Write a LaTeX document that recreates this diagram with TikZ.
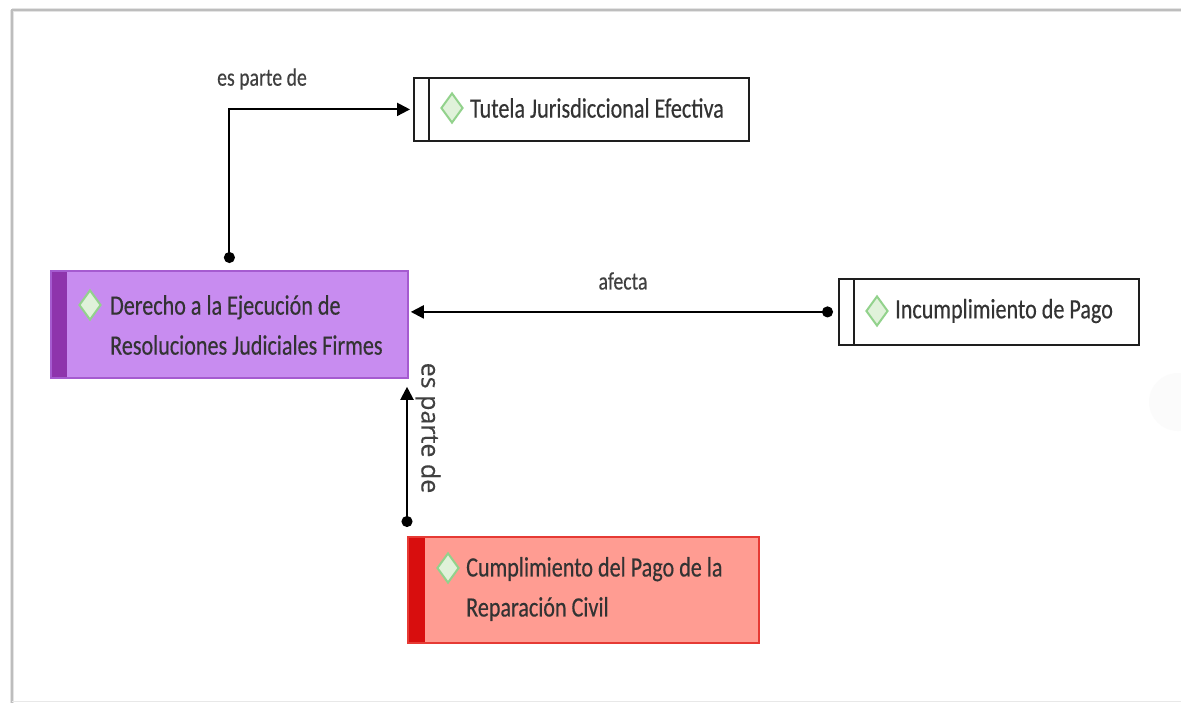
\documentclass[tikz,border=0pt]{standalone}
\usepackage{fontspec}
\setmainfont{Carlito}
\newfontfamily\boxfont[FakeStretch=0.79,FakeBold=0.35]{Carlito}
\newfontfamily\vlabelfont[FakeBold=0.3]{Open Sans}
\usetikzlibrary{arrows.meta,shapes.geometric,calc}

\definecolor{ink}{HTML}{333333}
\definecolor{labelink}{HTML}{404040}
\definecolor{edge}{HTML}{1E1E1E}
\definecolor{purplefill}{HTML}{C88CF0}
\definecolor{purplestrip}{HTML}{8E34AC}
\definecolor{purpleedge}{HTML}{A55BD0}
\definecolor{redfill}{HTML}{FF9C92}
\definecolor{redstrip}{HTML}{D80E0E}
\definecolor{rededge}{HTML}{E63A34}
\definecolor{diamedge}{HTML}{92D28C}
\definecolor{diamfill}{HTML}{E0F2DA}
\definecolor{frame}{HTML}{BDBDBD}

\tikzset{
  box/.style={rectangle, anchor=north west, inner sep=0pt, line width=1.8pt},
  whitebox/.style={box, draw=edge, fill=white},
  purplebox/.style={box, fill=purplefill},
  redbox/.style={box, fill=redfill},
  gem/.style={diamond, draw=diamedge, fill=diamfill, line width=2pt,
              inner sep=0pt, minimum width=22pt, minimum height=30pt},
  boxtext/.style={anchor=west, inner sep=0pt, text=ink, align=left,
              font=\boxfont\fontsize{28}{40}\selectfont},
  linklabel/.style={inner sep=0pt, text=labelink,
              font=\boxfont\fontsize{25}{30}\selectfont},
  link/.style={draw=black, line width=2.1pt,
              {Circle[length=11pt,width=11pt]}-{Triangle[length=13pt,width=13pt]}},
}

\begin{document}
\begin{tikzpicture}[x=1pt,y=-1pt]
\useasboundingbox (0,0) rectangle (1181,702);
\fill[white] (0,0) rectangle (1181,702);

% page frame with a soft edge
\draw[frame!40, line width=4pt] (12,10) -- (1190,10);
\draw[frame!40, line width=4pt] (12,10) -- (12,710);
\draw[frame, line width=1.4pt] (12,710) -- (12,10) -- (1190,10);
\draw[frame!35, line width=1pt] (12,701) -- (1190,701);
\fill[gray!3] (1178,402) circle (29);

% --- boxes ---
\node[whitebox, minimum width=335pt, minimum height=63pt] (tut) at (413,77) {};
\draw[edge, line width=1.8pt] ([xshift=16pt]tut.north west) -- ([xshift=16pt]tut.south west);

\node[purplebox, minimum width=355pt, minimum height=105pt] (der) at (51,271) {};
\fill[purplestrip] (der.north west) rectangle ([xshift=16pt]der.south west);
\draw[purpleedge, line width=1.8pt] (der.north west) rectangle (der.south east);

\node[whitebox, minimum width=300pt, minimum height=66pt] (inc) at (838,278) {};
\draw[edge, line width=1.8pt] ([xshift=16pt]inc.north west) -- ([xshift=16pt]inc.south west);

\node[redbox, minimum width=349pt, minimum height=104pt] (cum) at (408,537) {};
\fill[redstrip] (cum.north west) rectangle ([xshift=17pt]cum.south west);
\draw[rededge, line width=1.8pt] (cum.north west) rectangle (cum.south east);

% --- icons and captions ---
\node[gem] (tutgem) at (452,108) {};
\node[boxtext] (tuttext) at (470,108) {Tutela Jurisdiccional Efectiva};

\node[gem] (dergem) at (90,305) {};
\node[boxtext] (dertext) at (110,325) {Derecho a la Ejecución de\\Resoluciones Judiciales Firmes};

\node[gem] (incgem) at (877,311) {};
\node[boxtext] (inctext) at (895,311) {Incumplimiento de Pago};

\node[gem] (cumgem) at (448,568) {};
\node[boxtext] (cumtext) at (466,589) {Cumplimiento del Pago de la\\Reparación Civil};

% --- connectors ---
\draw[link, shorten >=3pt] ([yshift=8pt]der.north) |- (tut.west);
\node[linklabel] (lbl1) at (262,79) {es parte de};

\draw[link, shorten >=3pt] ([xshift=-5pt]inc.west) -- (der.east |- inc.west);
\node[linklabel] (lbl2) at (623,281) {afecta};

\coordinate (cumtop) at ([xshift=-1pt,yshift=10pt]cum.north west);
\draw[link, shorten >=9pt] (cumtop) -- (cumtop |- der.south);
\node[inner sep=0pt, text=labelink, rotate=-90,
      font=\vlabelfont\fontsize{25}{28}\selectfont] (lbl3) at (428,428) {es parte de};
\end{tikzpicture}
\end{document}
